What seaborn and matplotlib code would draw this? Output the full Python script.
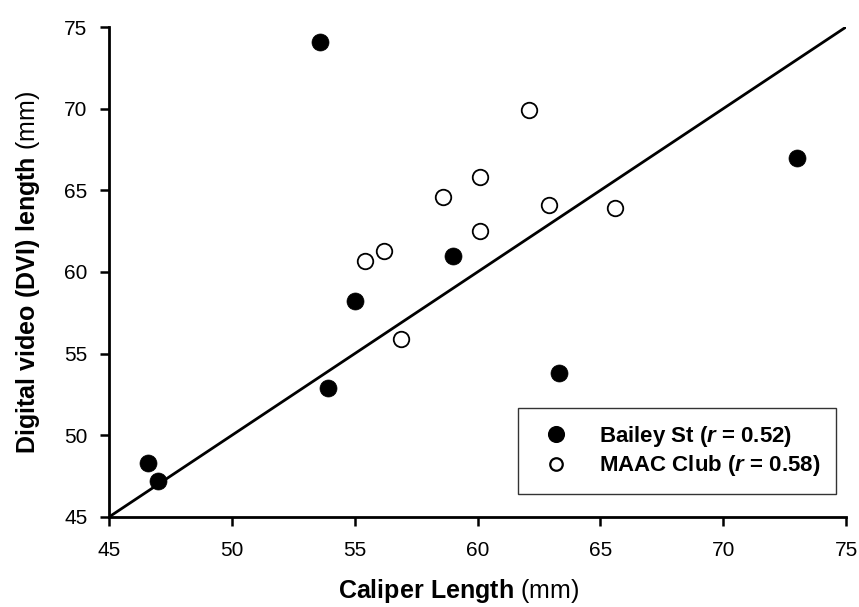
import matplotlib
matplotlib.use("Agg")
import matplotlib.pyplot as plt
import seaborn as sns
import pandas as pd
from matplotlib.lines import Line2D

# Data
bailey_x = [46.6, 47.0, 53.6, 53.9, 55.0, 59.0, 63.3, 73.0]
bailey_y = [48.3, 47.2, 74.1, 52.9, 58.2, 61.0, 53.8, 67.0]
maac_x = [55.4, 56.2, 56.9, 58.6, 60.1, 60.1, 62.1, 62.9, 65.6]
maac_y = [60.7, 61.3, 55.9, 64.6, 65.8, 62.5, 69.9, 64.1, 63.9]
line_x = [45, 75]
line_y = [45, 75]
ticks = [45, 50, 55, 60, 65, 70, 75]
labels = ["Bailey St ($\\mathit{r}$ = 0.52)", "MAAC Club ($\\mathit{r}$ = 0.58)"]

sns.set_theme(style="white")
plt.rcParams["font.family"] = ["Liberation Sans", "DejaVu Sans"]
plt.rcParams["text.color"] = "black"
plt.rcParams["mathtext.fontset"] = "custom"
plt.rcParams["mathtext.rm"] = "Liberation Sans"
plt.rcParams["mathtext.bf"] = "Liberation Sans:bold"
plt.rcParams["mathtext.it"] = "Liberation Sans:italic:bold"

fig = plt.figure(figsize=(8.59, 6.07), dpi=100)
ax = fig.add_axes([0.1269, 0.1483, 0.858, 0.8072])

df_b = pd.DataFrame({"x": bailey_x, "y": bailey_y})
df_m = pd.DataFrame({"x": maac_x, "y": maac_y})
df_l = pd.DataFrame({"x": line_x, "y": line_y})

sns.lineplot(data=df_l, x="x", y="y", ax=ax, color="black", linewidth=2.0, zorder=1)
sns.scatterplot(data=df_b, x="x", y="y", ax=ax, color="black", edgecolor="black",
                s=150, linewidth=0.5, zorder=3)
sns.scatterplot(data=df_m, x="x", y="y", ax=ax, facecolor="white", edgecolor="black",
                s=125, linewidth=1.3, zorder=3)

ax.set_xlim(45, 75)
ax.set_ylim(45, 75)
ax.set_xticks(ticks)
ax.set_yticks(ticks)
ax.tick_params(axis="both", direction="out", length=6.5, width=1.8, color="black",
               labelsize=15, labelcolor="black", left=True, bottom=True)
ax.tick_params(axis="x", pad=11)
ax.tick_params(axis="y", pad=9)
for s in ["top", "right"]:
    ax.spines[s].set_visible(False)
for s in ["left", "bottom"]:
    ax.spines[s].set_color("black")
    ax.spines[s].set_linewidth(2.0)

ax.set_xlabel("$\\mathbf{Caliper\\ Length}$ (mm)", fontsize=18, color="black", labelpad=12)
ax.xaxis.label.set_x(0.474)
ax.set_ylabel("$\\mathbf{Digital\\ video\\ (DVI)\\ length}$ (mm)", fontsize=18, color="black", labelpad=16)

handles = [
    Line2D([], [], marker="o", linestyle="none", markersize=11.3, markerfacecolor="black",
           markeredgecolor="black"),
    Line2D([], [], marker="o", linestyle="none", markersize=9, markerfacecolor="white",
           markeredgecolor="black", markeredgewidth=1.6),
]
leg = ax.legend(handles, labels, loc="lower right", bbox_to_anchor=(0.987, 0.047),
                frameon=True, fancybox=False, edgecolor="#333333", framealpha=1,
                prop={"weight": "bold", "size": 16}, borderpad=0.7,
                handletextpad=0.95, labelspacing=0.2, borderaxespad=0)
leg.get_frame().set_linewidth(1.0)
leg.set_zorder(5)
for t in leg.get_texts():
    t.set_color("black")

fig.savefig("out.png", dpi=100)
